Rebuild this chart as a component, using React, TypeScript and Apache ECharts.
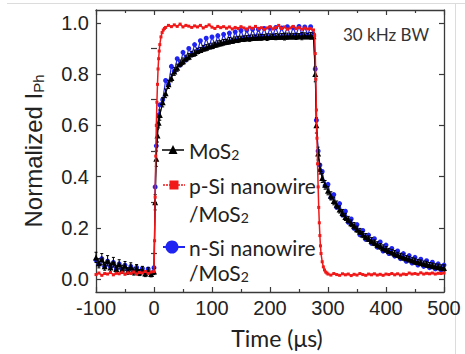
import React, { useEffect, useRef } from "react";
import * as echarts from "echarts";

// time grid (µs) for MoS2 and n-Si nanowire/MoS2 traces
const slowTime = [
  -100, -95, -90, -85, -80, -75, -70, -65, -60, -55, -50, -45, -40, -35, -30, -25, -20, -15, -10, -5, 0,
  2, 4, 6, 8,
  10, 15, 20, 25, 30, 35, 40, 45, 50, 55, 60, 65, 70, 75, 80, 85, 90, 95, 100, 105, 110, 115, 120, 125, 130,
  135, 140, 145, 150, 155, 160, 165, 170, 175, 180, 185, 190, 195, 200, 205, 210, 215, 220, 225, 230, 235,
  240, 245, 250, 255, 260, 265, 270, 275,
  278, 280, 283, 286,
  290, 295, 300, 305, 310, 315, 320, 325, 330, 335, 340, 345, 350, 355, 360, 365, 370, 375, 380, 385, 390,
  395, 400, 405, 410, 415, 420, 425, 430, 435, 440, 445, 450, 455, 460, 465, 470, 475, 480, 485, 490, 495, 500,
];

const nSiValue = [
  0.075, 0.058, 0.08, 0.05, 0.07, 0.048, 0.065, 0.04, 0.06, 0.038, 0.055, 0.035, 0.05, 0.03, 0.046, 0.028, 0.042, 0.025, 0.04, 0.022, 0.045,
  0.36, 0.52, 0.6, 0.64,
  0.68, 0.7, 0.775, 0.76, 0.83, 0.81, 0.86, 0.835, 0.885, 0.855,
  0.9, 0.875, 0.915, 0.89, 0.93, 0.9, 0.94, 0.905, 0.945, 0.915,
  0.95, 0.92, 0.955, 0.925, 0.96, 0.93, 0.965, 0.935, 0.97, 0.94,
  0.972, 0.94, 0.975, 0.945, 0.975, 0.948, 0.978, 0.945, 0.98, 0.95,
  0.982, 0.948, 0.98, 0.952, 0.985, 0.95, 0.982, 0.952, 0.986, 0.955,
  0.984, 0.952, 0.985, 0.955,
  0.82, 0.62, 0.5, 0.445,
  0.42, 0.365, 0.37, 0.318, 0.33, 0.28, 0.295, 0.25, 0.265, 0.222,
  0.235, 0.198, 0.213, 0.173, 0.19, 0.155, 0.172, 0.14, 0.158, 0.125,
  0.145, 0.11, 0.133, 0.1, 0.12, 0.09, 0.11, 0.08, 0.1, 0.07,
  0.092, 0.063, 0.085, 0.055, 0.078, 0.05, 0.072, 0.045, 0.066, 0.04,
  0.06, 0.036, 0.055,
];

const mos2Value = [
  0.085, 0.062, 0.078, 0.05, 0.072, 0.046, 0.066, 0.04, 0.058, 0.038, 0.052, 0.032, 0.048, 0.03, 0.042, 0.026, 0.036, 0.022, 0.032, 0.02, 0.03,
  0.3, 0.47, 0.56, 0.61,
  0.64, 0.69, 0.725, 0.76, 0.785, 0.81, 0.825, 0.842, 0.85, 0.862,
  0.868, 0.878, 0.882, 0.89, 0.894, 0.9, 0.903, 0.908, 0.91, 0.914,
  0.918, 0.92, 0.924, 0.926, 0.93, 0.93, 0.934, 0.935, 0.938, 0.938,
  0.94, 0.94, 0.942, 0.942, 0.944, 0.943, 0.945, 0.944, 0.946, 0.945,
  0.946, 0.946, 0.947, 0.946, 0.948, 0.947, 0.948, 0.947, 0.948, 0.948,
  0.949, 0.948, 0.949, 0.948,
  0.8, 0.6, 0.49, 0.43,
  0.395, 0.368, 0.345, 0.325, 0.305, 0.29, 0.272, 0.258, 0.243, 0.232,
  0.218, 0.208, 0.195, 0.186, 0.174, 0.166, 0.158, 0.15, 0.142, 0.135,
  0.128, 0.122, 0.116, 0.11, 0.105, 0.1, 0.095, 0.09, 0.086, 0.082,
  0.078, 0.074, 0.07, 0.067, 0.064, 0.061, 0.058, 0.055, 0.052, 0.05,
  0.048, 0.046, 0.044,
];

const mos2Error = [
  0.02, 0.018, 0.022, 0.015, 0.02, 0.017, 0.019, 0.014, 0.018, 0.016, 0.017, 0.013, 0.016, 0.014, 0.015, 0.012, 0.014, 0.012, 0.013, 0.011, 0.012,
  0.03, 0.03, 0.025, 0.02,
  0.02, 0.018, 0.017, 0.016, 0.015, 0.015, 0.014, 0.013, 0.013, 0.012,
  0.012, 0.011, 0.012, 0.011, 0.01, 0.011, 0.012, 0.01, 0.011, 0.01,
  0.012, 0.01, 0.011, 0.01, 0.013, 0.01, 0.011, 0.012, 0.01, 0.011,
  0.01, 0.012, 0.011, 0.01, 0.012, 0.011, 0.01, 0.013, 0.011, 0.01,
  0.012, 0.01, 0.011, 0.013, 0.012, 0.01, 0.011, 0.012, 0.01, 0.014,
  0.012, 0.011, 0.013, 0.012,
  0.03, 0.03, 0.025, 0.02,
  0.018, 0.017, 0.016, 0.016, 0.015, 0.015, 0.014, 0.014, 0.014, 0.013,
  0.013, 0.013, 0.012, 0.012, 0.012, 0.012, 0.011, 0.012, 0.011, 0.011,
  0.011, 0.012, 0.011, 0.01, 0.011, 0.012, 0.01, 0.011, 0.012, 0.01,
  0.011, 0.01, 0.012, 0.01, 0.011, 0.01, 0.012, 0.01, 0.011, 0.01,
  0.011, 0.01, 0.012,
];

// time grid (µs) for p-Si nanowire/MoS2 trace
const fastTime = [
  -100, -95, -90, -85, -80, -75, -70, -65, -60, -55, -50, -45, -40, -35, -30, -25, -20, -15, -10, -5, 0,
  1, 2, 3, 4, 5, 6, 7, 8, 9, 10, 12, 14, 16, 18,
  20, 25, 30, 35, 40, 45, 50, 55, 60, 65, 70, 75, 80, 85, 90, 95, 100, 105, 110, 115, 120, 125, 130, 135,
  140, 145, 150, 155, 160, 165, 170, 175, 180, 185, 190, 195, 200, 205, 210, 215, 220, 225, 230, 235, 240,
  245, 250, 255, 260, 265, 270, 275,
  277, 278, 279, 280, 281, 282, 283, 284, 285, 286, 287, 288, 290, 292, 294, 296, 298,
  300, 305, 310, 315, 320, 325, 330, 335, 340, 345, 350, 355, 360, 365, 370, 375, 380, 385, 390, 395, 400,
  405, 410, 415, 420, 425, 430, 435, 440, 445, 450, 455, 460, 465, 470, 475, 480, 485, 490, 495, 500,
];

const pSiValue = [
  0.018, 0.024, 0.015, 0.022, 0.02, 0.026, 0.017, 0.023, 0.021, 0.027, 0.019, 0.025, 0.022, 0.028, 0.02, 0.026, 0.024, 0.03, 0.022, 0.028, 0.03,
  0.15, 0.32, 0.48, 0.6, 0.69, 0.76, 0.82, 0.86, 0.89, 0.915, 0.945, 0.962, 0.972, 0.978,
  0.982, 0.99, 0.985, 0.992, 0.986, 0.995, 0.984, 0.99, 0.987, 0.982,
  0.988, 0.984, 0.99, 0.98, 0.986, 0.992, 0.983, 0.978, 0.986, 0.981,
  0.985, 0.979, 0.984, 0.976, 0.982, 0.978, 0.985, 0.98, 0.975, 0.983,
  0.978, 0.986, 0.977, 0.981, 0.974, 0.98, 0.985, 0.976, 0.982, 0.99,
  0.978, 0.984, 0.975, 0.98, 0.986, 0.977, 0.982, 0.975, 0.98, 0.976,
  0.978, 0.972,
  0.95, 0.88, 0.78, 0.66, 0.55, 0.45, 0.36, 0.28, 0.22, 0.17, 0.13, 0.1, 0.068, 0.048, 0.036, 0.028, 0.024,
  0.02, 0.016, 0.022, 0.018, 0.015, 0.021, 0.017, 0.02, 0.014, 0.019,
  0.016, 0.022, 0.018, 0.015, 0.02, 0.017, 0.021, 0.016, 0.019, 0.015,
  0.02, 0.018, 0.022, 0.017, 0.021, 0.016, 0.02, 0.018, 0.024, 0.02,
  0.022, 0.019, 0.025, 0.02, 0.023, 0.021, 0.024, 0.02, 0.023, 0.022,
  0.024,
];

const yTickValues = [0, 0.2, 0.4, 0.6, 0.8, 1.0];
const yMinorValues = [0.1, 0.3, 0.5, 0.7, 0.9];

const zip = (xs: number[], ys: number[]) => {
  const n = Math.min(xs.length, ys.length);
  const out: number[][] = [];
  for (let i = 0; i < n; i++) out.push([xs[i], ys[i]]);
  return out;
};

const AXIS = "#3a3a3a";
const LABEL_FONT = "Liberation Sans";
const TEXT_FONT = "Lato";
const BLUE = "#1f24f2";
const RED = "#f01818";

export default function App() {
  const ref = useRef<HTMLDivElement>(null);
  useEffect(() => {
    const chart = echarts.init(ref.current!, null, { renderer: "svg" });

    const errData: number[][] = [];
    const n = Math.min(slowTime.length, mos2Value.length, mos2Error.length);
    for (let i = 0; i < n; i++) {
      errData.push([slowTime[i], mos2Value[i] - mos2Error[i], mos2Value[i] + mos2Error[i]]);
    }

    const subRich = {
      sub: { fontSize: 14, fontFamily: TEXT_FONT, fill: "#222", padding: [9, 0, 0, 0] },
    };

    const yAxisBase = {
      type: "value" as const,
      min: -0.05,
      max: 1.05,
      splitLine: { show: false },
      axisLabel: { show: false },
    };

    const option: any = {
      animation: false,
      backgroundColor: "#fff",
      grid: { left: 96, right: 21, top: 10, bottom: 62, containLabel: false, outerBoundsMode: "none" },
      xAxis: [
        {
          type: "value",
          min: -100,
          max: 500,
          interval: 100,
          position: "bottom",
          axisLine: { show: true, onZero: false, lineStyle: { color: AXIS, width: 1.3 } },
          axisTick: { show: true, inside: true, length: 5, lineStyle: { color: AXIS, width: 1.2 } },
          minorTick: { show: true, splitNumber: 2, length: 3, lineStyle: { color: AXIS, width: 1.2 } },
          splitLine: { show: false },
          axisLabel: { fontSize: 20, fontFamily: LABEL_FONT, color: "#222", margin: 6 },
        },
        {
          type: "value",
          min: -100,
          max: 500,
          interval: 100,
          position: "top",
          axisLine: { show: true, onZero: false, lineStyle: { color: AXIS, width: 1.3 } },
          axisTick: { show: true, inside: true, length: 5, lineStyle: { color: AXIS, width: 1.2 } },
          minorTick: { show: true, splitNumber: 2, length: 3, lineStyle: { color: AXIS, width: 1.2 } },
          splitLine: { show: false },
          axisLabel: { show: false },
        },
      ],
      yAxis: [
        {
          ...yAxisBase,
          position: "left",
          axisLine: { show: true, onZero: false, lineStyle: { color: AXIS, width: 1.3 } },
          axisTick: { show: true, inside: true, length: 5, customValues: yTickValues, lineStyle: { color: AXIS, width: 1.2 } },
          axisLabel: {
            show: true,
            customValues: yTickValues,
            fontSize: 20,
            fontFamily: LABEL_FONT,
            color: "#222",
            margin: 7,
            formatter: (v: number) => v.toFixed(1),
          },
        },
        {
          ...yAxisBase,
          position: "right",
          axisLine: { show: true, onZero: false, lineStyle: { color: AXIS, width: 1.3 } },
          axisTick: { show: true, inside: true, length: 5, customValues: yTickValues, lineStyle: { color: AXIS, width: 1.2 } },
        },
        {
          ...yAxisBase,
          position: "left",
          axisLine: { show: false },
          axisTick: { show: true, inside: true, length: 3, customValues: yMinorValues, lineStyle: { color: AXIS, width: 1.2 } },
        },
        {
          ...yAxisBase,
          position: "right",
          axisLine: { show: false },
          axisTick: { show: true, inside: true, length: 3, customValues: yMinorValues, lineStyle: { color: AXIS, width: 1.2 } },
        },
      ],
      series: [
        {
          name: "n-Si nanowire/MoS2",
          type: "line",
          data: zip(slowTime, nSiValue),
          symbol: "circle",
          symbolSize: 5,
          showSymbol: true,
          lineStyle: { color: BLUE, width: 1.2 },
          itemStyle: { color: BLUE },
          z: 2,
        },
        {
          name: "err",
          type: "custom",
          data: errData,
          z: 3,
          renderItem: (params: any, api: any) => {
            const x = api.value(0);
            const p1 = api.coord([x, api.value(1)]);
            const p2 = api.coord([x, api.value(2)]);
            const st = { stroke: "#000", lineWidth: 1 };
            return {
              type: "group",
              children: [
                { type: "line", shape: { x1: p1[0], y1: p1[1], x2: p2[0], y2: p2[1] }, style: st },
                { type: "line", shape: { x1: p1[0] - 1.5, y1: p1[1], x2: p1[0] + 1.5, y2: p1[1] }, style: st },
                { type: "line", shape: { x1: p2[0] - 1.5, y1: p2[1], x2: p2[0] + 1.5, y2: p2[1] }, style: st },
              ],
            };
          },
        },
        {
          name: "MoS2",
          type: "line",
          data: zip(slowTime, mos2Value),
          symbol: "triangle",
          symbolSize: 6,
          showSymbol: true,
          lineStyle: { color: "#000", width: 1.2 },
          itemStyle: { color: "#000" },
          z: 4,
        },
        {
          name: "p-Si nanowire/MoS2",
          type: "line",
          data: zip(fastTime, pSiValue),
          symbol: "rect",
          symbolSize: 3,
          showSymbol: true,
          lineStyle: { color: RED, width: 1.5 },
          itemStyle: { color: RED },
          z: 5,
        },
      ],
      graphic: [
        // image border
        { type: "line", shape: { x1: 7, y1: 3.5, x2: 465, y2: 3.5 }, style: { stroke: "#dcdcdc", lineWidth: 1 } },
        { type: "line", shape: { x1: 455.5, y1: 3, x2: 455.5, y2: 354 }, style: { stroke: "#dcdcdc", lineWidth: 1 } },
        // annotation
        {
          type: "text",
          x: 343,
          y: 34,
          style: { text: "30 kHz BW", fontSize: 17, fontFamily: TEXT_FONT, fill: "#333", verticalAlign: "middle" },
        },
        // axis titles
        {
          type: "text",
          x: 33,
          y: 151,
          rotation: Math.PI / 2,
          style: {
            text: "Normalized I{sub|Ph}",
            fontSize: 24,
            fontFamily: LABEL_FONT,
            fill: "#222",
            align: "center",
            verticalAlign: "middle",
            rich: { sub: { fontSize: 15, fontFamily: LABEL_FONT, fill: "#222", padding: [10, 0, 0, 0] } },
          },
        },
        {
          type: "text",
          x: 277,
          y: 338,
          style: { text: "Time (μs)", fontSize: 23, fontFamily: TEXT_FONT, fill: "#222", align: "center", verticalAlign: "middle" },
        },
        // legend: MoS2
        { type: "line", shape: { x1: 162, y1: 150, x2: 184, y2: 150 }, style: { stroke: "#000", lineWidth: 1.5 } },
        { type: "polygon", shape: { points: [[173, 145], [168.5, 154], [177.5, 154]] }, style: { fill: "#000" } },
        {
          type: "text",
          x: 189,
          y: 150,
          style: { text: "MoS{sub|2}", fontSize: 21, fontFamily: TEXT_FONT, fill: "#222", verticalAlign: "middle", rich: subRich },
        },
        // legend: p-Si
        { type: "line", shape: { x1: 163, y1: 185, x2: 185, y2: 185 }, style: { stroke: RED, lineWidth: 1.5, lineDash: [2, 1] } },
        { type: "rect", shape: { x: 169.5, y: 180.5, width: 9, height: 9 }, style: { fill: RED } },
        {
          type: "text",
          x: 189,
          y: 185,
          style: { text: "p-Si nanowire", fontSize: 21, fontFamily: TEXT_FONT, fill: "#222", verticalAlign: "middle" },
        },
        {
          type: "text",
          x: 189,
          y: 213,
          style: { text: "/MoS{sub|2}", fontSize: 21, fontFamily: TEXT_FONT, fill: "#222", verticalAlign: "middle", rich: subRich },
        },
        // legend: n-Si
        { type: "line", shape: { x1: 163, y1: 247, x2: 185, y2: 247 }, style: { stroke: BLUE, lineWidth: 2 } },
        { type: "circle", shape: { cx: 172, cy: 247, r: 6.5 }, style: { fill: BLUE } },
        {
          type: "text",
          x: 189,
          y: 247,
          style: { text: "n-Si nanowire", fontSize: 21, fontFamily: TEXT_FONT, fill: "#222", verticalAlign: "middle" },
        },
        {
          type: "text",
          x: 189,
          y: 272,
          style: { text: "/MoS{sub|2}", fontSize: 21, fontFamily: TEXT_FONT, fill: "#222", verticalAlign: "middle", rich: subRich },
        },
      ],
    };

    chart.setOption(option);
    return () => chart.dispose();
  }, []);

  return (
    <div
      ref={ref}
      style={{ position: "fixed", left: 0, top: 0, width: 465, height: 354, background: "#fff" }}
    />
  );
}
